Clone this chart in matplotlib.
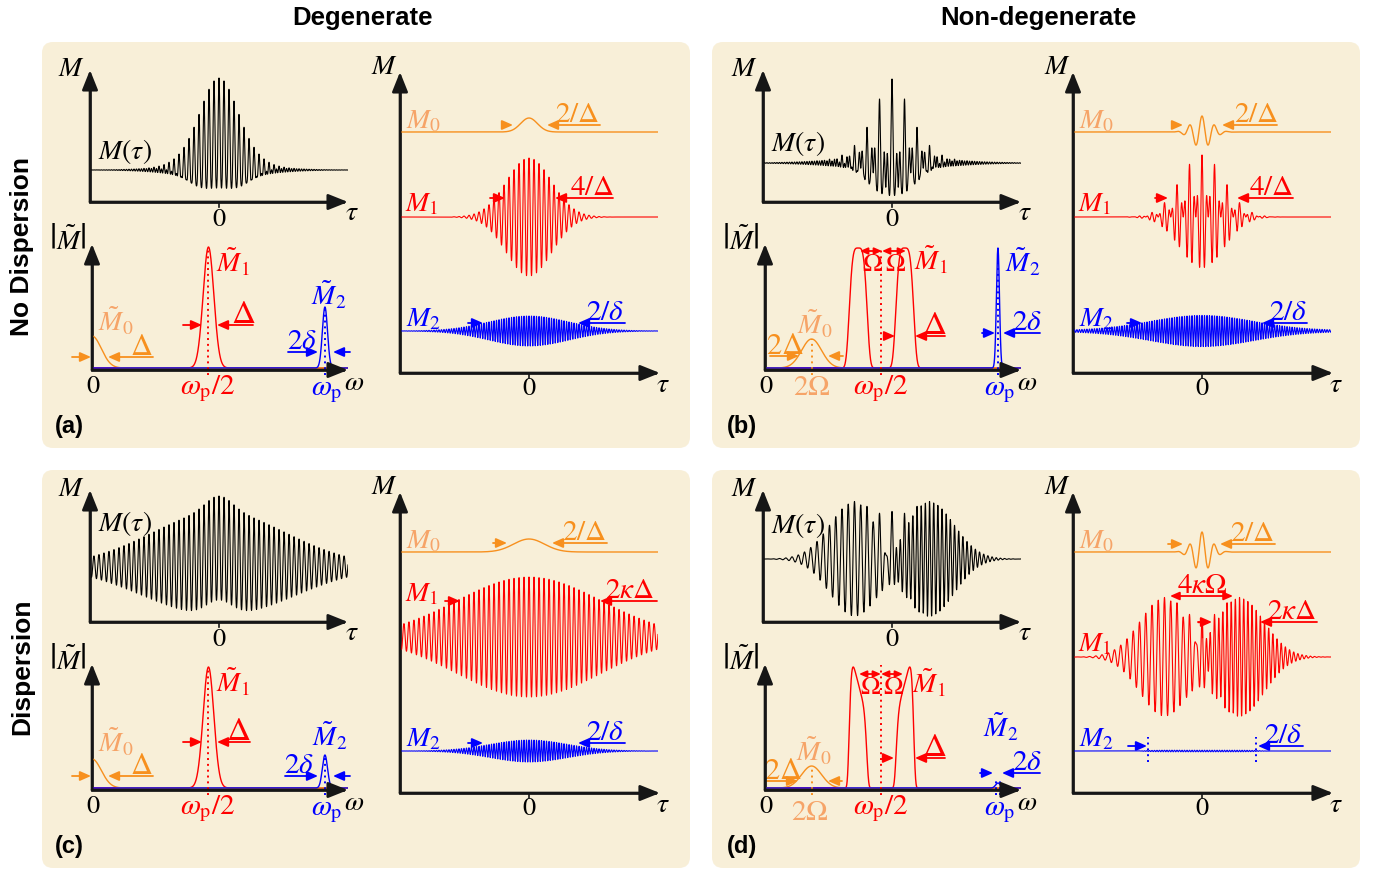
import numpy as np
import matplotlib
matplotlib.use("Agg")
import matplotlib.pyplot as plt
from matplotlib.patches import FancyBboxPatch

plt.rcParams["mathtext.fontset"] = "stix"
plt.rcParams["font.family"] = ["Liberation Serif", "DejaVu Serif"]

# ---------------------------------------------------------------- parameters
W = 324.0          # carrier scale (rad per tau unit for omega = omega_p = 1)
OMEGA = 0.1        # non-degenerate offset Omega (units of omega_p)
OMEGA_MAX = 1.099  # right end of spectral axis

# spectra (heights in px above axis, widths in units of omega_p)
spec_a = dict(h0=32, s0=0.040, h1=121, s1=0.023, h2=61, s2=0.011)
spec_c = dict(h0=29, s0=0.040, h1=121, s1=0.023, h2=33, s2=0.011)
spec_b = dict(h0=29, s0=0.043, h1=120, w1=0.035, h2=120, s2=0.0065)
spec_d = dict(h0=22, s0=0.043, h1=121, w1=0.035, h2=5, s2=0.010)

# right-hand component plots (amplitudes in px, envelope widths in tau units)
comp_base = [241, 156, 42]          # baselines of M0, M1, M2
comp_base_d = [241, 136, 42]
time_a = dict(a0=14, s0=0.065, a1=59, s1=0.175, a2=15, s2=0.31)
time_c = dict(a0=13, s0=0.12, a1=60, s1=0.56, a2=11, s2=0.30)
time_b = dict(a0=16, s0=0.075, a1=62, s1=0.17, a2=15, s2=0.40, r2=0.6)
time_d = dict(a0=20, s0=0.07, a1=59, lobe=0.29, s1=0.19, a2=0.8, half2=0.415)

# top-left total M(tau)
sum_a = dict(base=32, a0=30, s0=0.12, a1=55, s1=0.17, a2=7, s2=0.33)
sum_c = dict(base=55, a0=15, s0=0.10, a1=52, s1=0.55, a2=4, s2=0.30)
sum_b = dict(base=39, a0=22, s0=0.08, a1=56, s1=0.17, a2=6, s2=0.40)
sum_d = dict(base=63, a0=12, s0=0.07, a1=57, lobe=0.29, s1=0.19)

titles = ["Degenerate", "Non-degenerate"]
row_labels = ["No Dispersion", "Dispersion"]
panel_tags = ["(a)", "(b)", "(c)", "(d)"]

# ---------------------------------------------------------------- styling
FW, FH = 1380, 874
PANEL_BG = "#F8EFD8"
AXC = "#161616"
ORANGE = "#F7901E"
LORANGE = "#F6A468"
RED = "#FF0000"
BLUE = "#0000FF"

AXL = 20     # axis label size
NUM = 19     # tick number size
LBL = 20     # component label size
ANN = 21     # annotation size

fig = plt.figure(figsize=(FW / 100, FH / 100), dpi=100)
fig.patch.set_facecolor("white")

bg = fig.add_axes([0, 0, 1, 1])
bg.set_xlim(0, FW); bg.set_ylim(FH, 0); bg.axis("off")
for (x0, y0, x1, y1) in [(42, 42, 690, 448), (712, 42, 1360, 448),
                         (42, 470, 690, 868), (712, 470, 1360, 868)]:
    bg.add_patch(FancyBboxPatch((x0, y0), x1 - x0, y1 - y0,
                                boxstyle="round,pad=0,rounding_size=11",
                                fc=PANEL_BG, ec="none"))


def gauss(x, s, c=0.0):
    return np.exp(-0.5 * ((x - c) / s) ** 2)


def supergauss(x, w, p, c=0.0):
    return np.exp(-0.5 * np.abs((x - c) / w) ** p)


def make_ax(x_left, x_right, y_axis, y_top, xlim):
    ax = fig.add_axes([x_left / FW, 1 - y_axis / FH,
                       (x_right - x_left) / FW, (y_axis - y_top) / FH])
    ax.set_xlim(*xlim)
    ax.set_ylim(0, y_axis - y_top)
    ax.axis("off")
    ax.patch.set_alpha(0)
    return ax


def frame(ax, x0, xtip, ytip, tick=None):
    ax.plot([x0, x0, xtip - 0.02 * (xtip - x0)], [ytip * 0.95, 0, 0], color=AXC,
            lw=1.9, solid_joinstyle="miter", clip_on=False)
    kw = dict(arrowstyle="-|>,head_length=0.6,head_width=0.24", color=AXC,
              lw=1.9, mutation_scale=20, shrinkA=0, shrinkB=0)
    ax.annotate("", xy=(xtip, 0), xytext=(x0, 0), arrowprops=kw,
                annotation_clip=False)
    ax.annotate("", xy=(x0, ytip), xytext=(x0, 0), arrowprops=kw,
                annotation_clip=False)
    if tick is not None:
        ax.plot([tick, tick], [0, -5], color=AXC, lw=1.2, clip_on=False)


def vdot(ax, x, y0, y1, color):
    ax.plot([x, x], [y0, y1], color=color, lw=1.4, ls=(0, (1, 2)),
            clip_on=False)


def txt(x, y, s, color="black", size=AXL, va="center", **kw):
    bg.text(x, y, s, color=color, fontsize=size, ha="center", va=va,
            zorder=10, **kw)


def dlabel(x, shaft_y, s, color, size=ANN, gap=3):
    """label sitting on a dimension-arrow shaft (shaft acts as underline)"""
    txt(x, shaft_y - gap, s, color, size, va="baseline")


def harrow(x_from, x_to, y, color, style="-|>", ms=13):
    bg.annotate("", xy=(x_to, y), xytext=(x_from, y),
                arrowprops=dict(arrowstyle=style + ",head_length=0.5,head_width=0.22",
                                lw=1.3, color=color, mutation_scale=ms,
                                shrinkA=0, shrinkB=0), zorder=10)


tau = np.linspace(-1, 1, 14001)
om = np.linspace(0, OMEGA_MAX, 6001)

LW_SIG = 0.8
LW_SPEC = 1.0

# Layout of one panel in pixel space (panel (a) frame); offsets for the others
offsets = [(0, 0), (673, 0), (0, 420), (673, 420)]
for i, (dx, dy) in enumerate(offsets):
    # top-left M(tau) axes
    tl = make_ax(90 + dx, 348 + dx, 202 + dy, 70 + dy, (-1, 1))
    frame(tl, -1, 1.0, 132, tick=0)
    # spectrum axes
    sp = make_ax(92 + dx, 348 + dx, 370 + dy, 244 + dy, (0, OMEGA_MAX))
    frame(sp, 0, OMEGA_MAX, 126)
    # right component axes
    rt = make_ax(400 + dx, 658 + dx, 373 + dy, 72 + dy, (-1, 1))
    frame(rt, -1, 1.015, 301, tick=0)

    if i in (0, 2):
        tp = time_a if i == 0 else time_c
        sm = sum_a if i == 0 else sum_c
        sp_p = spec_a if i == 0 else spec_c
        b0, b1, b2 = comp_base
        M0 = b0 + tp["a0"] * gauss(tau, tp["s0"])
        M1 = b1 + tp["a1"] * gauss(tau, tp["s1"]) * np.cos(0.5 * W * tau)
        M2 = b2 + tp["a2"] * gauss(tau, tp["s2"]) * np.cos(W * tau)
        Mt = (sm["base"] + sm["a0"] * gauss(tau, sm["s0"])
              + sm["a1"] * gauss(tau, sm["s1"]) * np.cos(0.5 * W * tau)
              + sm["a2"] * gauss(tau, sm["s2"]) * np.cos(W * tau))
        S0 = 2 + sp_p["h0"] * gauss(om, sp_p["s0"])
        S1 = 2 + sp_p["h1"] * gauss(om, sp_p["s1"], 0.5)
        S2 = 2 + sp_p["h2"] * gauss(om, sp_p["s2"], 1.0)
        sp.plot(om, S1, color=RED, lw=LW_SPEC)
        sp.plot(om, S0, color=ORANGE, lw=LW_SPEC)
        sp.plot(om, S2, color=BLUE, lw=LW_SPEC)
        vdot(sp, 0.5, -5, 2 + sp_p["h1"], RED)
        vdot(sp, 1.0, -5, 2 + sp_p["h2"], BLUE)
    else:
        tp = time_b if i == 1 else time_d
        sm = sum_b if i == 1 else sum_d
        sp_p = spec_b if i == 1 else spec_d
        b0, b1, b2 = comp_base if i == 1 else comp_base_d
        M0 = b0 + tp["a0"] * gauss(tau, tp["s0"]) * np.cos(2 * OMEGA * W * tau)
        if i == 1:
            M1 = b1 + tp["a1"] * gauss(tau, tp["s1"]) * np.cos(OMEGA * W * tau) * np.cos(0.5 * W * tau)
            M2 = b2 + (tp["a2"] * gauss(tau, tp["s2"]) + tp["r2"]) * np.cos(W * tau)
            Mt = (sm["base"] + sm["a0"] * gauss(tau, sm["s0"]) * np.cos(2 * OMEGA * W * tau)
                  + sm["a1"] * gauss(tau, sm["s1"]) * np.cos(OMEGA * W * tau) * np.cos(0.5 * W * tau)
                  + sm["a2"] * gauss(tau, sm["s2"]) * np.cos(W * tau))
        else:
            lobes = (gauss(tau, tp["s1"], -tp["lobe"]) * np.cos((0.5 - OMEGA) * W * tau)
                     + gauss(tau, tp["s1"], tp["lobe"]) * np.cos((0.5 + OMEGA) * W * tau))
            M1 = b1 + tp["a1"] * lobes
            M2 = b2 + tp["a2"] * supergauss(tau, tp["half2"], 8) * np.cos(W * tau)
            lobes_s = (gauss(tau, sm["s1"], -sm["lobe"]) * np.cos((0.5 - OMEGA) * W * tau)
                       + gauss(tau, sm["s1"], sm["lobe"]) * np.cos((0.5 + OMEGA) * W * tau))
            Mt = (sm["base"] + sm["a0"] * gauss(tau, sm["s0"]) * np.cos(2 * OMEGA * W * tau)
                  + sm["a1"] * lobes_s)
            for xm in (-tp["half2"], tp["half2"]):
                vdot(rt, xm, 31, 56, BLUE)
        S0 = 2 + sp_p["h0"] * gauss(om, sp_p["s0"], 2 * OMEGA)
        if i == 1:
            hump = (supergauss(om, sp_p["w1"], 4, 0.5 - OMEGA)
                    + supergauss(om, sp_p["w1"], 4, 0.5 + OMEGA))
        else:
            xl = (om - (0.5 - OMEGA)) / sp_p["w1"]
            xr = (om - (0.5 + OMEGA)) / sp_p["w1"]
            hump = (supergauss(xl, 1, 6) * (1 - 0.3 * xl)
                    + supergauss(xr, 1, 6) * (1 + 0.3 * xr))
            hump = hump / hump.max()
        S1 = 2 + sp_p["h1"] * hump
        S2 = 2 + sp_p["h2"] * gauss(om, sp_p["s2"], 1.0)
        sp.plot(om, S1, color=RED, lw=LW_SPEC)
        sp.plot(om, S0, color=ORANGE, lw=LW_SPEC)
        sp.plot(om, S2, color=BLUE, lw=LW_SPEC)
        vdot(sp, 0.5, -5, 121 if i == 1 else 125, RED)
        vdot(sp, 2 * OMEGA, -5, 2 + sp_p["h0"], ORANGE)
        if i == 1:
            vdot(sp, 1.0, -5, 2 + sp_p["h2"], BLUE)
        else:
            vdot(sp, 1.0 - 0.009, -5, 12, BLUE)
            vdot(sp, 1.0 + 0.009, -5, 12, BLUE)

    rt.plot(tau, M0, color=ORANGE, lw=1.0)
    rt.plot(tau, M1, color=RED, lw=LW_SIG)
    rt.plot(tau, M2, color=BLUE, lw=LW_SIG)
    tl.plot(tau, Mt, color="black", lw=LW_SIG)

    # ---- common labels
    mtau_y = [152, 144, 104, 106][i]
    txt(71 + dx, 70 + dy, r"$M$")
    txt(125 + dx, mtau_y + dy, r"$M(\tau)$", size=20)
    txt(219 + dx, 220 + dy, r"$0$", size=NUM)
    txt(352 + dx, 213 + dy, r"$\tau$")
    txt(68 + dx, 240 + dy, r"$\left|\tilde{M}\right|$", size=20)
    txt(93 + dx, 387 + dy, r"$0$", size=NUM)
    txt(354 + dx, 384 + dy, r"$\omega$")
    txt(208 + dx, 389 + dy, r"$\omega_{\mathrm{p}}/2$", RED, 21)
    txt(327 + dx, 392 + dy, r"$\omega_{\mathrm{p}}$", BLUE, 21)
    txt(69 + dx, 427 + dy, panel_tags[i], size=17, family="Liberation Sans",
        weight="bold")
    txt(384 + dx, 68 + dy, r"$M$")
    txt(529 + dx, 389 + dy, r"$0$", size=NUM)
    txt(663 + dx, 386 + dy, r"$\tau$")
    txt(423 + dx, 122 + dy, r"$M_0$", LORANGE, LBL)
    m1y = [205, 205, 175, 225][i]
    txt(422 + dx, m1y + dy, r"$M_1$", RED, LBL)
    txt(423 + dx, 320 + dy, r"$M_2$", BLUE, LBL)

# ---------------- panel specific annotations
# (a)
dlabel(577, 125, r"$2/\Delta$", ORANGE); harrow(503, 513, 125, ORANGE); harrow(600, 547, 125, ORANGE)
dlabel(592, 198, r"$4/\Delta$", RED); harrow(490, 505, 198, RED); harrow(613, 555, 198, RED)
dlabel(605, 323, r"$2/\delta$", BLUE); harrow(468, 483, 323, BLUE); harrow(625, 578, 323, BLUE)
txt(233, 262, r"$\tilde{M}_1$", RED, LBL)
dlabel(243, 325, r"$\Delta$", RED, 24, 2); harrow(183, 202, 325, RED); harrow(253, 217, 325, RED)
txt(329, 295, r"$\tilde{M}_2$", BLUE, LBL)
dlabel(302, 352, r"$2\delta$", BLUE); harrow(288, 318, 352, BLUE); harrow(350, 333, 352, BLUE)
txt(116, 321, r"$\tilde{M}_0$", LORANGE, LBL)
dlabel(141, 357, r"$\Delta$", ORANGE, 22, 2); harrow(72, 91, 357, ORANGE); harrow(153, 108, 357, ORANGE)

# (c)
dlabel(584, 543, r"$2/\Delta$", ORANGE); harrow(493, 507, 543, ORANGE); harrow(607, 552, 543, ORANGE)
dlabel(630, 601, r"$2\kappa\Delta$", RED); harrow(445, 460, 601, RED); harrow(657, 600, 601, RED)
dlabel(605, 743, r"$2/\delta$", BLUE); harrow(468, 483, 743, BLUE); harrow(625, 578, 743, BLUE)
txt(233, 682, r"$\tilde{M}_1$", RED, LBL)
dlabel(238, 742, r"$\Delta$", RED, 24, 2); harrow(183, 202, 742, RED); harrow(250, 217, 742, RED)
txt(330, 736, r"$\tilde{M}_2$", BLUE, LBL)
dlabel(299, 776, r"$2\delta$", BLUE); harrow(285, 318, 776, BLUE); harrow(350, 333, 776, BLUE)
txt(116, 742, r"$\tilde{M}_0$", LORANGE, LBL)
dlabel(141, 776, r"$\Delta$", ORANGE, 22, 2); harrow(72, 91, 776, ORANGE); harrow(153, 108, 776, ORANGE)

# (b)
dlabel(1256, 125, r"$2/\Delta$", ORANGE); harrow(1172, 1183, 125, ORANGE); harrow(1277, 1222, 125, ORANGE)
dlabel(1271, 198, r"$4/\Delta$", RED); harrow(1155, 1168, 198, RED); harrow(1293, 1237, 198, RED)
dlabel(1288, 323, r"$2/\delta$", BLUE); harrow(1127, 1142, 323, BLUE); harrow(1307, 1262, 323, BLUE)
txt(931, 260, r"$\tilde{M}_1$", RED, LBL)
txt(872, 254, r"$\Omega$", RED, 19, va="top"); txt(895, 254, r"$\Omega$", RED, 19, va="top")
harrow(860, 882, 251, RED, "<|-|>", 9); harrow(882, 906, 251, RED, "<|-|>", 9)
dlabel(934, 336, r"$\Delta$", RED, 24, 2); harrow(886, 895, 336, RED); harrow(945, 915, 336, RED)
txt(1023, 262, r"$\tilde{M}_2$", BLUE, LBL)
dlabel(1027, 333, r"$2\delta$", BLUE); harrow(982, 995, 333, BLUE); harrow(1040, 1003, 333, BLUE)
txt(815, 324, r"$\tilde{M}_0$", LORANGE, LBL)
dlabel(785, 356, r"$2\Delta$", ORANGE, 22, 2); harrow(770, 799, 356, ORANGE); harrow(843, 828, 356, ORANGE)
txt(812, 388, r"$2\Omega$", LORANGE, 21)

# (d)
dlabel(1252, 544, r"$2/\Delta$", ORANGE); harrow(1168, 1183, 544, ORANGE); harrow(1275, 1220, 544, ORANGE)
dlabel(1202, 596, r"$4\kappa\Omega$", RED); harrow(1170, 1233, 596, RED, "<|-|>", 11)
dlabel(1292, 622, r"$2\kappa\Delta$", RED); harrow(1198, 1212, 622, RED); harrow(1317, 1260, 622, RED)
bg.plot([1202, 1202], [622, 637], color=RED, lw=1.0, zorder=10)
bg.plot([1198, 1206], [622, 622], color=RED, lw=1.0, zorder=10)
dlabel(1283, 746, r"$2/\delta$", BLUE); harrow(1128, 1147, 746, BLUE); harrow(1303, 1258, 746, BLUE)
txt(929, 683, r"$\tilde{M}_1$", RED, LBL)
txt(870, 677, r"$\Omega$", RED, 19, va="top"); txt(893, 677, r"$\Omega$", RED, 19, va="top")
harrow(859, 881, 674, RED, "<|-|>", 9); harrow(881, 903, 674, RED, "<|-|>", 9)
dlabel(934, 758, r"$\Delta$", RED, 24, 2); harrow(883, 894, 758, RED); harrow(945, 915, 758, RED)
txt(1001, 727, r"$\tilde{M}_2$", BLUE, LBL)
dlabel(1027, 773, r"$2\delta$", BLUE); harrow(980, 993, 773, BLUE); harrow(1040, 1002, 773, BLUE)
txt(814, 751, r"$\tilde{M}_0$", LORANGE, LBL)
dlabel(783, 781, r"$2\Delta$", ORANGE, 22, 2); harrow(767, 798, 781, ORANGE); harrow(842, 828, 781, ORANGE)
txt(810, 813, r"$2\Omega$", LORANGE, 21)

# ---------------- titles
for x, t in zip([362, 1038], titles):
    txt(x, 18, t, "black", 18.5, family="Liberation Sans", weight="bold")
for y, t in zip([247, 667], row_labels):
    txt(22, y, t, "black", 19, family="Liberation Sans", weight="bold",
        rotation=90)

fig.savefig("out.png", dpi=100)
